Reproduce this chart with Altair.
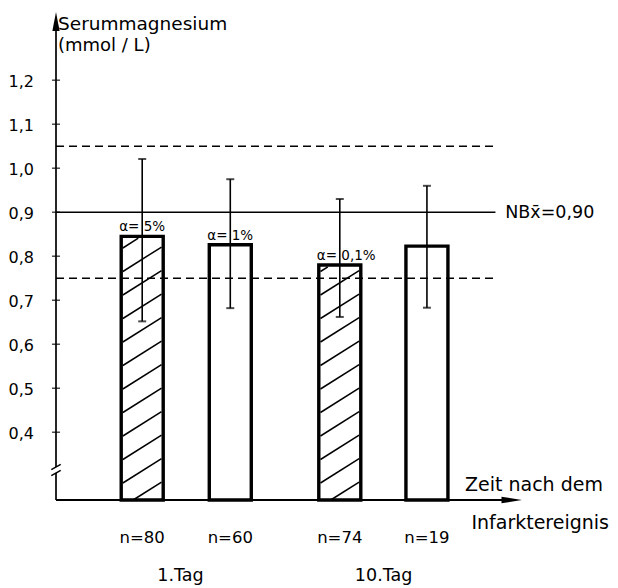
import math
import altair as alt
import pandas as pd

# ---------------- data ----------------
n_labels = ["n=80", "n=60", "n=74", "n=19"]
group_labels = ["1.Tag", "10.Tag"]
means = [0.845, 0.826, 0.780, 0.823]
err_lo = [0.652, 0.682, 0.662, 0.683]
err_hi = [1.021, 0.975, 0.930, 0.960]
alpha_labels = ["α= 5%", "α= 1%", "α= 0,1%", ""]
hatched = [True, False, True, False]
ref_mean = 0.90
ref_band = [0.75, 1.05]
y_ticks = [0.4, 0.5, 0.6, 0.7, 0.8, 0.9, 1.0, 1.1, 1.2]

# ---------------- layout constants ----------------
W, H = 476, 488
X_MAX = 10.0
Y_MIN, Y_MAX = 0.246, 1.355
PX_X = W / X_MAX
PX_Y = H / (Y_MAX - Y_MIN)
bar_pos = [1.85, 3.74, 6.09, 7.96]
tag_pos = [2.67, 7.03]
LINE_END = 9.43
FONT = "DejaVu Sans"
INK = "#000000"

XS = alt.Scale(domain=[0, X_MAX], nice=False, zero=False)
YS = alt.Scale(domain=[Y_MIN, Y_MAX], nice=False, zero=False)


def X(f):
    return alt.X(f, type="quantitative", scale=XS, axis=None)


def Y(f):
    return alt.Y(f, type="quantitative", scale=YS, axis=None)


bars = pd.DataFrame({
    "pos": bar_pos, "mean": means, "lo": err_lo, "hi": err_hi,
    "n": n_labels, "alpha": alpha_labels, "base": [Y_MIN] * 4,
})

# hatch lines inside the hatched bars (generated from bar values)
BAR_PX = 42
K = 0.62      # rise per unit run (px)
STEP = 23.5   # vertical spacing (px)
PHASE = 17.0
hrows = []
for p, m, h in zip(bar_pos, means, hatched):
    if not h:
        continue
    w = BAR_PX - 2.5
    hh = (m - Y_MIN) * PX_Y - 1.8
    xl = p - (w / 2) / PX_X
    c = PHASE - STEP * math.ceil((PHASE + K * w) / STEP)
    while c < hh:
        u0 = max(0.0, -c / K)
        u1 = min(w, (hh - c) / K)
        if u1 > u0:
            hrows.append({"x": xl + u0 / PX_X, "y": Y_MIN + (c + K * u0) / PX_Y,
                          "x2": xl + u1 / PX_X, "y2": Y_MIN + (c + K * u1) / PX_Y})
        c += STEP
hatch = pd.DataFrame(hrows)

refs = pd.DataFrame({"y": [ref_mean], "x": [0.0], "x2": [LINE_END]})
dash = pd.DataFrame({"y": ref_band, "x": [0.0, 0.0], "x2": [LINE_END, LINE_END]})
ticks = pd.DataFrame({
    "y": y_ticks, "x": [0.0] * len(y_ticks),
    "label": [f"{v:.1f}".replace(".", ",") for v in y_ticks],
})

# axis pieces
brk_hi = Y_MIN + 33 / PX_Y
brk_lo = Y_MIN + 27 / PX_Y
yaxis = pd.DataFrame({"x": [0.0, 0.0], "y": [Y_MIN, brk_hi], "y2": [brk_lo, Y_MAX - 12 / PX_Y]})
sdx, sdy = 4.8 / PX_X, 2.6 / PX_Y
slashes = pd.DataFrame({
    "x": [-sdx, -sdx], "x2": [sdx, sdx],
    "y": [brk_lo - sdy, brk_hi - sdy], "y2": [brk_lo + sdy, brk_hi + sdy],
})
xaxis = pd.DataFrame({"x": [0.0], "x2": [X_MAX - 0.3], "y": [Y_MIN]})
up_arrow = pd.DataFrame({"x": [0.0], "y": [Y_MAX - 9.5 / PX_Y]})
right_arrow = pd.DataFrame({"x": [X_MAX - 10.5 / PX_X], "y": [Y_MIN]})

groups = pd.DataFrame({"pos": tag_pos, "label": group_labels})
nb = pd.DataFrame({"x": [9.64], "y": [ref_mean], "t": ["NBx\u0304=0,90"]})
titles = pd.DataFrame({"t": ["Serummagnesium"]})

# ---------------- layers ----------------
bar_layer = alt.Chart(bars).mark_bar(
    size=BAR_PX, fill="white", stroke=INK, strokeWidth=3.4
).encode(x=X("pos"), y=Y("mean"), y2=alt.Y2("base:Q"))

hatch_layer = alt.Chart(hatch).mark_rule(color=INK, strokeWidth=1.5).encode(
    x=X("x"), x2=alt.X2("x2"), y=Y("y"), y2=alt.Y2("y2"))

solid_layer = alt.Chart(refs).mark_rule(color=INK, strokeWidth=1.6).encode(
    x=X("x"), x2=alt.X2("x2"), y=Y("y"))

dash_layer = alt.Chart(dash).mark_rule(color=INK, strokeWidth=1.6, strokeDash=[8, 5]).encode(
    x=X("x"), x2=alt.X2("x2"), y=Y("y"))

err_layer = alt.Chart(bars).mark_rule(color=INK, strokeWidth=1.6).encode(
    x=X("pos"), y=Y("lo"), y2=alt.Y2("hi"))

cap_lo = alt.Chart(bars).mark_tick(orient="horizontal", size=8, thickness=2, color=INK).encode(
    x=X("pos"), y=Y("lo"))
cap_hi = alt.Chart(bars).mark_tick(orient="horizontal", size=8, thickness=2, color=INK).encode(
    x=X("pos"), y=Y("hi"))

yaxis_layer = alt.Chart(yaxis).mark_rule(color=INK, strokeWidth=1.7).encode(
    x=X("x"), y=Y("y"), y2=alt.Y2("y2"))
slash_layer = alt.Chart(slashes).mark_rule(color=INK, strokeWidth=1.5).encode(
    x=X("x"), x2=alt.X2("x2"), y=Y("y"), y2=alt.Y2("y2"))
tick_layer = alt.Chart(ticks).mark_tick(orient="horizontal", size=8, thickness=1.5, color=INK).encode(
    x=X("x"), y=Y("y"))
ticklabel_layer = alt.Chart(ticks).mark_text(
    align="right", baseline="middle", dx=-22, dy=2, font=FONT, fontSize=16, color=INK
).encode(x=X("x"), y=Y("y"), text="label:N")
xaxis_layer = alt.Chart(xaxis).mark_rule(color=INK, strokeWidth=1.8).encode(
    x=X("x"), x2=alt.X2("x2"), y=Y("y"))
up_layer = alt.Chart(up_arrow).mark_point(
    shape="M0,-1L0.38,1L-0.38,1Z", size=361, filled=True, fill=INK, strokeWidth=0, opacity=1
).encode(x=X("x"), y=Y("y"))
right_layer = alt.Chart(right_arrow).mark_point(
    shape="M1,0L-1,-0.32L-1,0.32Z", size=420, filled=True, fill=INK, strokeWidth=0, opacity=1
).encode(x=X("x"), y=Y("y"))

alpha_layer = alt.Chart(bars).mark_text(
    align="left", baseline="middle", dx=-23, dy=-9, font=FONT, fontSize=13.5, color=INK
).encode(x=X("pos"), y=Y("mean"), text="alpha:N")

nb_layer = alt.Chart(nb).mark_text(
    align="left", baseline="middle", dy=1, font=FONT, fontSize=17.5, color=INK
).encode(x=X("x"), y=Y("y"), text="t:N")

n_layer = alt.Chart(bars).mark_text(
    align="center", baseline="middle", font=FONT, fontSize=16.5, color=INK
).encode(x=X("pos"), y=alt.value(526), text="n:N")

tag_layer = alt.Chart(groups).mark_text(
    align="center", baseline="middle", font=FONT, fontSize=17.5, color=INK
).encode(x=X("pos"), y=alt.value(564), text="label:N")


def label(text, x, y, size, align="left"):
    return alt.Chart(titles).mark_text(
        align=align, baseline="middle", font=FONT, fontSize=size, color=INK, text=text
    ).encode(x=alt.value(x), y=alt.value(y))


t1 = label("Serummagnesium", 7, 12, 18.5)
t2 = label("(mmol / L)", 7, 34, 18)
t3 = label("Zeit nach dem", 414, 473, 19)
t4 = label("Infarktereignis", 558, 511, 19, align="right")

chart = alt.layer(
    bar_layer, hatch_layer, solid_layer, dash_layer, err_layer, cap_lo, cap_hi,
    yaxis_layer, slash_layer, tick_layer, ticklabel_layer, xaxis_layer, up_layer, right_layer,
    alpha_layer, nb_layer, n_layer, tag_layer, t1, t2, t3, t4,
).properties(
    width=W, height=H,
    padding={"left": 43, "top": 4, "right": 83, "bottom": 88},
    autosize=alt.AutoSizeParams(type="none"),
).configure(
    background="white",
    view=alt.ViewConfig(stroke=None),
)

chart.save("out.html", embed_options={"renderer": "svg", "actions": False})
